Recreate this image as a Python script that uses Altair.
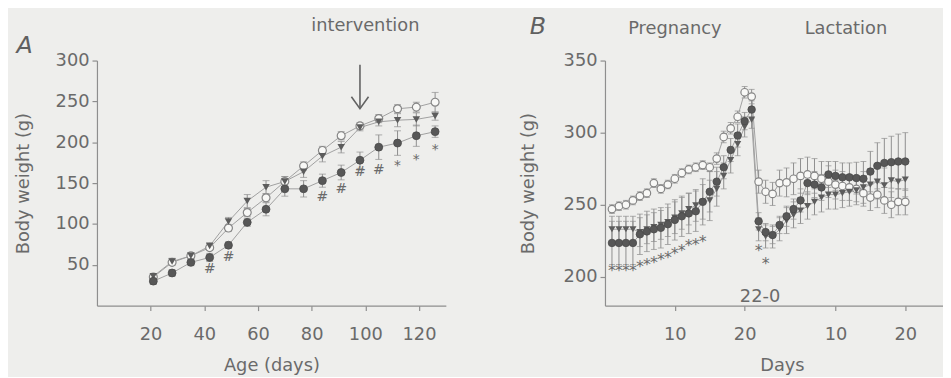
import altair as alt
import pandas as pd

# ---------------- Panel A data (age in days, body weight g) ----------------
age_days = [21, 28, 35, 42, 49, 56, 63, 70, 77, 84, 91, 98, 105, 112, 119, 126]
a_open = [35, 53, 61, 71, 95, 114, 132, 152, 171, 190, 208, 220, 229, 241, 243, 249]
a_open_err = [3, 3, 3, 3, 4, 5, 5, 6, 5, 5, 5, 4, 5, 5, 6, 12]
a_tri = [36, 54, 61, 73, 103, 128, 145, 152, 164, 183, 194, 218, 225, 227, 228, 232]
a_tri_err = [3, 4, 4, 4, 5, 8, 8, 6, 7, 7, 7, 4, 5, 8, 8, 5]
a_filled = [30, 40, 53, 59, 74, 102, 118, 143, 143, 153, 163, 178, 194, 199, 208, 213]
a_filled_err = [4, 4, 4, 5, 4, 5, 8, 9, 10, 8, 9, 10, 15, 15, 13, 7]

a_sig_x = [42, 49, 84, 91, 98, 105, 112, 119, 126]
a_sig_y = [45, 59, 133, 143, 164, 166, 171, 178, 190]
a_sig_text = ["#", "#", "#", "#", "#", "#", "*", "*", "*"]

a_ticks_x = [20, 40, 60, 80, 100, 120]
a_ticks_y = [50, 100, 150, 200, 250, 300]

# ---------------- Panel B data ----------------
preg_day = [1, 2, 3, 4, 5, 6, 7, 8, 9, 10, 11, 12, 13, 14, 15, 16, 17, 18, 19, 20, 21]
b_open_preg = [247, 249, 250, 253, 256, 258, 265, 261, 264, 268, 272, 274.5, 276, 277.5,
               276, 282, 297, 303, 311, 328, 325]
b_open_preg_err = [3, 3, 3, 3, 3, 3, 3, 3, 3, 3, 3, 3, 3, 3, 3, 4, 4, 4, 4, 4, 5]
b_tri_preg = [233, 233, 233, 233, 231, 233, 234.5, 236, 238, 241, 244, 247, 249.5, 252,
              253, 261, 270, 281, 292, 304, 309]
b_tri_preg_err = [9, 9, 9, 9, 10, 10, 10, 10, 10, 11, 11, 11, 11, 12, 14, 12, 9, 9, 8, 7, 6]
b_filled_preg = [223.5, 223.5, 223.5, 223.5, 229.5, 231.5, 233, 234, 236.5, 239.5, 242,
                 244, 245.5, 252, 259, 266, 276, 288, 298, 308, 316]
b_filled_preg_err = [15, 15, 15, 15, 14, 14, 14, 14, 14, 14, 14, 14, 14, 16, 14, 10, 8, 8, 8, 6, 6]

lact_day = [0, 1, 2, 3, 4, 5, 6, 7, 8, 9, 10, 11, 12, 13, 14, 15, 16, 17, 18, 19, 20, 21]
lact_offset = 22
b_open_lact = [266, 259, 257.5, 265, 265.5, 268, 270, 271, 270, 268, 266, 264, 263, 262,
               261, 258, 255, 257, 253, 250, 252, 252]
b_open_lact_err = [8, 8, 8, 9, 10, 11, 12, 12, 12, 12, 11, 10, 10, 9, 9, 9, 9, 9, 9, 9, 9, 9]
b_tri_lact = [233, 228, 228, 233, 239, 243, 246, 249, 252, 255, 257, 257, 258, 259, 260,
              262, 264, 266, 263.5, 267, 266, 267.5]
b_tri_lact_err = [8, 8, 8, 8, 9, 9, 9, 9, 9, 10, 10, 10, 10, 10, 10, 11, 11, 12, 12, 12, 12, 12]
b_filled_lact = [238.5, 231, 229, 236, 242, 247, 253, 265, 264, 262, 271, 270, 269, 269,
                 268.5, 268, 273, 277, 279, 279.5, 280, 280]
b_filled_lact_err = [6, 6, 6, 6, 7, 7, 8, 8, 9, 9, 9, 10, 10, 10, 11, 12, 14, 16, 17, 18, 19, 20]

b_sig_x = [1, 2, 3, 4, 5, 6, 7, 8, 9, 10, 11, 12, 13, 14, 22, 23]
b_sig_y = [204, 204, 204, 204, 207, 208, 209.5, 211.5, 213, 216, 218, 221, 222, 224, 218, 209]

b_ticks_y = [200, 250, 300, 350]
b_ticks_x = [10, 20, 33, 43]
b_tick_labels = ["10", "20", "10", "20"]

# ---------------- style ----------------
FONT = "DejaVu Sans"
TXT = "#6a6a6a"
AX = "#8e8e8e"
LINE = "#a0a0a0"
BG = "#eeeeec"
OPEN_FILL = "#f8f8f6"
DARK = "#575757"


def build_df(xs, ys, errs, names):
    rows = []
    for name, x, y, e in zip(names, xs, ys, errs):
        for xi, yi, ei in zip(x, y, e):
            rows.append(dict(x=xi, y=yi, lo=yi - ei, hi=yi + ei, g=name))
    return pd.DataFrame(rows)


dfA = build_df([age_days] * 3, [a_open, a_tri, a_filled],
               [a_open_err, a_tri_err, a_filled_err], ["open", "tri", "filled"])

b_x = preg_day + [lact_offset + d for d in lact_day]
dfB = build_df([b_x] * 3,
               [b_open_preg + b_open_lact, b_tri_preg + b_tri_lact, b_filled_preg + b_filled_lact],
               [b_open_preg_err + b_open_lact_err, b_tri_preg_err + b_tri_lact_err,
                b_filled_preg_err + b_filled_lact_err],
               ["open", "tri", "filled"])


def panel(df, X, Y, size, cap):
    base = alt.Chart(df).encode(x=X("x"), y=Y("y"))
    line = base.mark_line(color=LINE, strokeWidth=1).encode(detail="g:N")
    err = alt.Chart(df).mark_rule(color=AX, strokeWidth=1).encode(x=X("x"), y=Y("lo"), y2="hi:Q")
    cap_lo = alt.Chart(df).mark_tick(orient="horizontal", color=AX, size=cap, thickness=1).encode(
        x=X("x"), y=Y("lo"))
    cap_hi = alt.Chart(df).mark_tick(orient="horizontal", color=AX, size=cap, thickness=1).encode(
        x=X("x"), y=Y("hi"))
    opn = base.transform_filter(alt.datum.g == "open").mark_circle(
        size=size, fill=OPEN_FILL, stroke="#858585", strokeWidth=1.2, opacity=1)
    tri = base.transform_filter(alt.datum.g == "tri").mark_point(
        shape="triangle-down", filled=True, color="#5c5c5c", size=size * 0.9, opacity=1)
    fil = base.transform_filter(alt.datum.g == "filled").mark_circle(
        size=size, color=DARK, stroke="#4a4a4a", strokeWidth=0.8, opacity=1)
    return [line, err, cap_lo, cap_hi, opn, tri, fil]


# ---------------- Panel A ----------------
xsA = alt.Scale(domain=[0, 130], nice=False, zero=False)
ysA = alt.Scale(domain=[0, 300], nice=False, zero=False)
axXA = alt.Axis(values=a_ticks_x, title="Age (days)")
axYA = alt.Axis(values=a_ticks_y, title="Body weight (g)")


def XA(f):
    return alt.X(f + ":Q", scale=xsA, axis=axXA)


def YA(f):
    return alt.Y(f + ":Q", scale=ysA, axis=axYA)


layersA = panel(dfA, XA, YA, 64, 7)

sigA = alt.Chart(pd.DataFrame(dict(x=a_sig_x, y=a_sig_y, t=a_sig_text))).mark_text(
    font=FONT, fontSize=14, color=TXT, baseline="middle").encode(x=XA("x"), y=YA("y"), text="t:N")

arrow_shaft = alt.Chart(pd.DataFrame(dict(x=[98], y=[295], y2=[242]))).mark_rule(
    color="#626262", strokeWidth=1.6).encode(x=XA("x"), y=YA("y"), y2="y2:Q")
arrow_head = alt.Chart(pd.DataFrame(dict(x=[98], y=[241]))).mark_point(
    shape="M -1 -1.4 L 0 0 L 1 -1.4", filled=False, stroke="#626262", strokeWidth=1.6,
    size=300, opacity=1).encode(x=XA("x"), y=YA("y"))
textA = alt.Chart(pd.DataFrame(dict(x=[100], y=[342], t=["intervention"]))).mark_text(
    font=FONT, fontSize=18, color=TXT).encode(x=XA("x"), y=YA("y"), text="t:N")
letterA = alt.Chart(pd.DataFrame(dict(x=[-27], y=[318], t=["A"]))).mark_text(
    font=FONT, fontSize=24, fontStyle="italic", color="#606060").encode(x=XA("x"), y=YA("y"), text="t:N")

chartA = alt.layer(*layersA, sigA, arrow_shaft, arrow_head, textA, letterA).properties(
    width=353, height=248)

# ---------------- Panel B ----------------
xsB = alt.Scale(domain=[0, 48.4], nice=False, zero=False)
ysB = alt.Scale(domain=[180, 350], nice=False, zero=False)
label_expr = " : ".join(
    f"datum.value == {v} ? '{l}'" for v, l in zip(b_ticks_x, b_tick_labels)) + " : ''"
axXB = alt.Axis(values=b_ticks_x, title="Days", labelExpr=label_expr, titleX=179)
axYB = alt.Axis(values=b_ticks_y, title="Body weight (g)", titlePadding=26)


def XB(f):
    return alt.X(f + ":Q", scale=xsB, axis=axXB)


def YB(f):
    return alt.Y(f + ":Q", scale=ysB, axis=axYB)


layersB = panel(dfB, XB, YB, 58, 6)

sigB = alt.Chart(pd.DataFrame(dict(x=b_sig_x, y=b_sig_y, t=["*"] * len(b_sig_x)))).mark_text(
    font=FONT, fontSize=16, color=TXT, baseline="middle").encode(x=XB("x"), y=YB("y"), text="t:N")
textB = alt.Chart(pd.DataFrame(dict(x=[10, 34.5, 22.2], y=[372, 372, 186],
                                    t=["Pregnancy", "Lactation", "22-0"]))).mark_text(
    font=FONT, fontSize=18, color=TXT).encode(x=XB("x"), y=YB("y"), text="t:N")
letterB = alt.Chart(pd.DataFrame(dict(x=[-9.6], y=[373], t=["B"]))).mark_text(
    font=FONT, fontSize=24, fontStyle="italic", color="#606060").encode(x=XB("x"), y=YB("y"), text="t:N")

chartB = alt.layer(*layersB, sigB, textB, letterB).properties(width=342, height=248)

chart = alt.hconcat(chartA, chartB, spacing=74).configure_view(stroke=None).configure_axis(
    domainColor=AX, tickColor=AX, labelColor=TXT, titleColor=TXT, labelFont=FONT,
    titleFont=FONT, labelFontSize=18, titleFontSize=18, titleFontWeight="normal",
    grid=False, tickSize=5, domainWidth=1.2, tickWidth=1.2,
).configure_axisY(labelPadding=3, titlePadding=23).configure_axisX(
    labelPadding=15, titlePadding=14).properties(
    background=BG, padding={"left": 6, "top": 5, "right": 0, "bottom": 0})

chart.save("out.html", embed_options={"renderer": "svg", "actions": False})
